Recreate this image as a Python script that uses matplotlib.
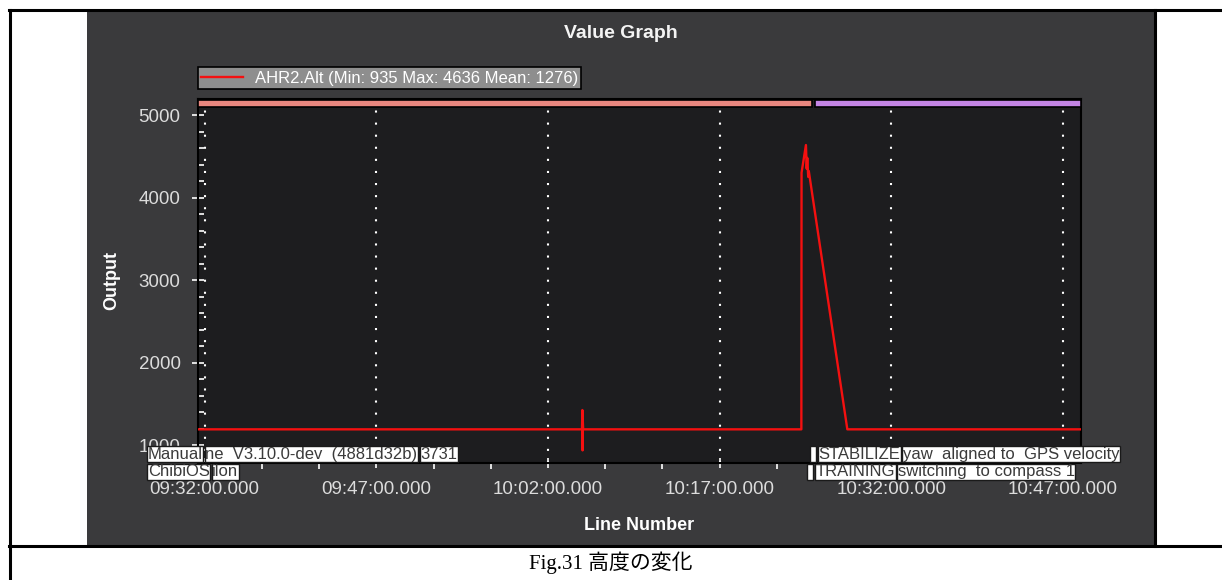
import matplotlib
matplotlib.use("Agg")
import matplotlib.pyplot as plt
import pandas as pd
from matplotlib.patches import Rectangle
from matplotlib.lines import Line2D
from matplotlib.ticker import MultipleLocator
from matplotlib.transforms import blended_transform_factory
import matplotlib.dates as mdates

# ---- data -------------------------------------------------------------
LOG_DAY = "2018-06-01 "

alt_times = ["09:31:25", "10:04:58", "10:05:00", "10:05:01", "10:05:02",
             "10:05:04", "10:24:08", "10:24:09", "10:24:32", "10:24:36",
             "10:24:39", "10:24:44", "10:24:47", "10:28:09", "10:48:34"]
alt_values = [1190, 1190, 1424, 935, 1310,
              1190, 1190, 4300, 4636, 4350,
              4480, 4250, 4320, 1190, 1190]
series_label = "AHR2.Alt (Min: 935 Max: 4636 Mean: 1276)"

# flight-mode band along the top of the plot
mode_starts = ["09:31:25", "10:25:20"]
mode_ends = ["10:25:05", "10:48:34"]
mode_colors = ["#e9877f", "#c384e4"]

# log messages printed along the bottom (start time, row, pieces)
msg_times = ["09:26:58", "09:26:58", "10:24:55", "10:24:40"]
msg_rows = [0, 1, 0, 1]
msg_texts = [["Manual", "ne  V3.10.0-dev  (4881d32b)", "3731"],
             ["ChibiOS", "ilon"],
             [" ", "STABILIZE", "yaw  aligned to  GPS velocity"],
             [" ", "TRAINING", "switching  to compass 1"]]

x_limits = ["09:31:25", "10:48:34"]
x_tick_times = ["09:32:00", "09:47:00", "10:02:00", "10:17:00", "10:32:00", "10:47:00"]
x_tick_labels = ["09:32:00.000", "09:47:00.000", "10:02:00.000",
                 "10:17:00.000", "10:32:00.000", "10:47:00.000"]
y_ticks = [1000, 2000, 3000, 4000, 5000]
y_limits = [782, 5194]


def ts(s):
    return pd.Timestamp(LOG_DAY + s).to_pydatetime()


# ---- page layout (pixel helpers) --------------------------------------
W, H = 1222, 580
fig = plt.figure(figsize=(W / 100, H / 100), dpi=100, facecolor="white")


def fx(px):
    return px / W


def fy(py):
    return 1 - py / H


FONT = "Liberation Sans"

# dark graph pane
fig.add_artist(Rectangle((fx(87), fy(545)), fx(1154) - fx(87), fy(11) - fy(545),
                         transform=fig.transFigure, facecolor="#3a3a3c",
                         edgecolor="none", zorder=0))
# table rules of the document page
for x0, y0, x1, y1 in [(9, 10, W, 10), (10, 10, 10, H), (9, 546, W, 546),
                       (1155, 10, 1155, 546)]:
    fig.add_artist(Line2D([fx(x0), fx(x1)], [fy(y0), fy(y1)], color="black",
                          lw=2.2, transform=fig.transFigure, zorder=1))

ax = fig.add_axes([fx(198), fy(463), fx(1081) - fx(198), fy(99) - fy(463)])
ax.set_facecolor("#1d1d1f")
for sp in ax.spines.values():
    sp.set_color("black")
    sp.set_linewidth(1.5)

# ---- series ------------------------------------------------------------
t = [ts(s) for s in alt_times]
ax.plot(t, alt_values, color="#f41010", lw=1.7, label=series_label, zorder=3)

# mode band
band = blended_transform_factory(ax.transData, ax.transAxes)
for s, e, c in zip(mode_starts, mode_ends, mode_colors):
    x0 = mdates.date2num(ts(s))
    x1 = mdates.date2num(ts(e))
    ax.add_patch(Rectangle((x0, 0.979), x1 - x0, 0.018, transform=band,
                           facecolor=c, edgecolor="black", lw=1.2, zorder=4,
                           clip_on=False))

# ---- axes, ticks, grid ---------------------------------------------------
ax.set_xlim(ts(x_limits[0]), ts(x_limits[1]))
ax.set_ylim(*y_limits)
ax.set_xticks([ts(s) for s in x_tick_times], x_tick_labels)
ax.xaxis.set_minor_locator(mdates.MinuteLocator(byminute=range(2, 60, 5)))
ax.set_yticks(y_ticks)
ax.yaxis.set_minor_locator(MultipleLocator(200))

ax.tick_params(axis="x", which="major", direction="inout", length=7, width=1.2,
               color="white", labelcolor="#dcdcdc", labelsize=13.5, pad=9.5)
ax.tick_params(axis="x", which="minor", direction="out", length=4, width=1.2,
               color="white")
ax.tick_params(axis="y", which="major", direction="inout", length=9, width=1.2,
               color="white", labelcolor="#dcdcdc", labelsize=13.5, pad=8)
ax.tick_params(axis="y", which="minor", direction="in", length=4, width=1.2,
               color="white")
for lab in ax.get_xticklabels() + ax.get_yticklabels():
    lab.set_family(FONT)

ax.grid(axis="x", which="major", color="white", lw=1.5, linestyle=(0, (1, 4.8)))

ax.set_xlabel("Line Number", fontsize=13, fontweight="bold", color="white",
              family=FONT, va="center")
ax.xaxis.set_label_coords(0.5, -(525 - 463) / 364)
ax.set_ylabel("Output", fontsize=13, fontweight="bold", color="white",
              family=FONT, va="center")
ax.yaxis.set_label_coords((112 - 198) / 883, 0.5)

leg = ax.legend(loc="lower left", bbox_to_anchor=(0, 1 + 10 / 364),
                borderaxespad=0, frameon=True, fancybox=False,
                facecolor="#8e8e8e", edgecolor="black", framealpha=1,
                prop={"family": FONT, "size": 12}, handlelength=2.5,
                handletextpad=0.7, borderpad=0.2)
leg.get_frame().set_linewidth(1.2)
for txt in leg.get_texts():
    txt.set_color("white")

# ---- log message boxes -----------------------------------------------------
msg_box = dict(boxstyle="square,pad=0.04", facecolor="white",
               edgecolor="#1a1a1a", lw=1.0)
pad_pt = 0.04 * 12
for when, row, pieces in zip(msg_times, msg_rows, msg_texts):
    va = "bottom" if row == 0 else "top"
    dy = pad_pt + 0.5 if row == 0 else -(pad_pt + 0.5)
    prev = None
    for piece in pieces:
        kw = dict(fontsize=12, family=FONT, color="#3a3a3a", ha="left", va=va,
                  bbox=msg_box, annotation_clip=False, zorder=10,
                  textcoords="offset points")
        if prev is None:
            prev = ax.annotate(piece, xy=(mdates.date2num(ts(when)), 0),
                               xycoords=band, xytext=(pad_pt, dy), **kw)
        else:
            prev = ax.annotate(piece, xy=(1, 0 if row == 0 else 1),
                               xycoords=prev, xytext=(2 * pad_pt + 1, 0), **kw)

# ---- titles ------------------------------------------------------------------
fig.text(fx(621), fy(33), "Value Graph", ha="center", va="center",
         fontsize=14, fontweight="bold", color="#f4f4f4", family=FONT)
fig.text(fx(611), fy(563), "Fig.31 高度の変化", ha="center", va="center",
         fontsize=15, color="black",
         family=["Liberation Serif", "Noto Sans CJK JP"])

fig.savefig("out.png", dpi=100, facecolor="white")
